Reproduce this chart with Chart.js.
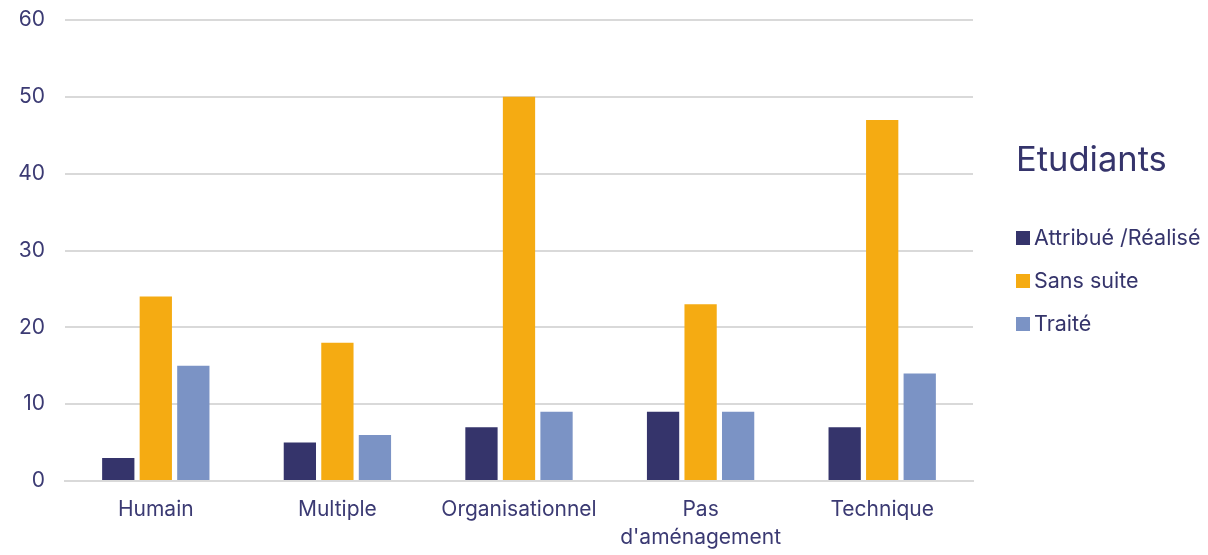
<!DOCTYPE html>
<html>
<head>
<meta charset="utf-8">
<script src="https://cdn.jsdelivr.net/npm/chart.js@4"></script>
<style>
  body { margin: 0; background: #fff; font-family: Inter, sans-serif; }
  #wrap { position: relative; width: 1208px; height: 555px; }
  #legend { position: absolute; left: 1016px; top: 138px; color: #35346B; }
  #legend .title { font-size: 34.5px; margin-bottom: 45px; }
  #legend .item { font-size: 21.5px; height: 43px; display: flex; align-items: flex-start; }
  #legend .box { width: 14px; height: 14px; margin: 7px 4px 0 0; }
</style>
</head>
<body>
<div id="wrap">
  <canvas id="chart" width="1208" height="555"></canvas>
  <div id="legend"><div class="title">Etudiants</div></div>
</div>
<script>
const categories = ['Humain', 'Multiple', 'Organisationnel', ['Pas', "d'aménagement"], 'Technique'];
const attribue = [3, 5, 7, 9, 7];
const sansSuite = [24, 18, 50, 23, 47];
const traite = [15, 6, 9, 9, 14];
const seriesNames = ['Attribué /Réalisé', 'Sans suite', 'Traité'];
const colors = ['#35346B', '#F5AB12', '#7B93C5'];
const yTicks = [0, 10, 20, 30, 40, 50, 60];

const textColor = '#3B3A73';

const ctx = document.getElementById('chart').getContext('2d');
const chart = new Chart(ctx, {
    type: 'bar',
    data: {
        labels: categories,
        datasets: [attribue, sansSuite, traite].map((d, i) => ({
            label: seriesNames[i],
            data: d,
            backgroundColor: colors[i],
            barPercentage: 0.86,
            categoryPercentage: 0.62
        }))
    },
    options: {
        responsive: false,
        animation: false,
        layout: { padding: { top: 20, right: 235, left: 0, bottom: 0 } },
        plugins: {
            legend: { display: false },
            tooltip: { enabled: false }
        },
        scales: {
            x: {
                grid: { display: false, drawTicks: false },
                border: { color: '#D9D9D9', width: 2 },
                ticks: { color: textColor, font: { family: 'Inter', size: 21, lineHeight: 1.33 }, padding: 15 },
                afterFit: (axis) => { axis.height = 74; }
            },
            y: {
                min: 0,
                max: 60,
                afterBuildTicks: (axis) => { axis.ticks = yTicks.map(v => ({ value: v })); },
                grid: { color: '#D9D9D9', lineWidth: 2, drawTicks: false },
                border: { display: false },
                ticks: { color: textColor, font: { family: 'Inter', size: 21 }, padding: 20 },
                afterFit: (axis) => { axis.width = 65; axis.paddingTop = 0; }
            }
        }
    }
});

const legend = document.getElementById('legend');
seriesNames.forEach((name, i) => {
    const item = document.createElement('div');
    item.className = 'item';
    item.innerHTML = `<span class="box" style="background:${colors[i]}"></span>${name}`;
    legend.appendChild(item);
});
</script>
</body>
</html>
